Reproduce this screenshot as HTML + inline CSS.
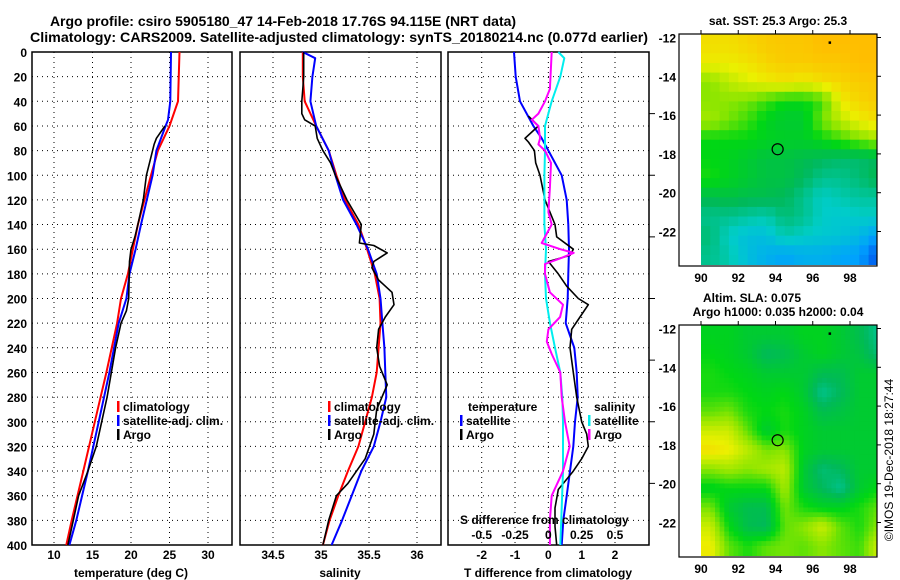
<!DOCTYPE html>
<html><head><meta charset="utf-8"><style>
body{margin:0;background:#fff}
svg{display:block;font-family:"Liberation Sans",sans-serif;font-weight:bold}
</style></head><body>
<svg id="c" width="900" height="580" viewBox="0 0 900 580" xmlns="http://www.w3.org/2000/svg">
<text x="283" y="26" font-size="14" text-anchor="middle">Argo profile: csiro 5905180_47 14-Feb-2018 17.76S 94.115E (NRT data)</text>
<text x="30" y="42" font-size="14" textLength="618" lengthAdjust="spacingAndGlyphs">Climatology: CARS2009. Satellite-adjusted climatology: synTS_20180214.nc (0.077d earlier)</text>
<text x="778" y="25" font-size="12" text-anchor="middle">sat. SST: 25.3 Argo: 25.3</text>
<text x="752" y="302" font-size="12" text-anchor="middle">Altim. SLA: 0.075</text>
<text x="778" y="316" font-size="12" text-anchor="middle">Argo h1000: 0.035 h2000: 0.04</text>
<text transform="translate(893,460) rotate(-90)" font-size="12" font-weight="normal" text-anchor="middle">©IMOS 19-Dec-2018 18:27:44</text>
<g id="g"></g>
</svg>
<script>
// ---- depth axis ----
const depthTicks=[0,20,40,60,80,100,120,140,160,180,200,220,240,260,280,300,320,340,360,380,400];
// ---- temperature panel ----
const tTicks=[10,15,20,25,30];
const tDepth=[0,40,60,80,100,140,180,200,220,260,300,340,380,400];
const tClim=[26.3,26.1,25.0,23.5,22.6,20.9,19.6,18.7,18.2,16.8,15.3,13.8,12.3,11.6];
const tSatDepth=[0,40,55,60,80,100,140,160,180,200,220,260,300,340,380,400];
const tSat=[25.2,25.1,24.8,24.5,23.3,22.8,21.3,20.6,19.8,19.4,18.4,17.2,15.8,14.4,12.9,12.0];
const tArgoDepth=[60,70,75,90,100,120,140,150,160,170,200,210,220,240,280,320,340,360,380,400];
const tArgo=[24.4,23.3,23.0,22.4,22.0,21.6,20.9,20.5,20.0,19.8,19.7,19.4,18.7,18.0,16.9,15.5,14.4,13.2,12.5,11.8];
// ---- salinity panel ----
const sTicks=[34.5,35,35.5,36];
const sClimDepth=[0,20,40,60,80,100,120,140,160,180,200,220,240,260,280,300,320,340,360,380,400];
const sClim=[34.81,34.81,34.83,34.95,35.08,35.16,35.25,35.39,35.48,35.56,35.61,35.62,35.60,35.58,35.53,35.46,35.39,35.28,35.18,35.09,35.02];
const sSatDepth=[0,5,20,40,60,80,100,120,140,160,180,200,220,240,260,280,300,320,340,360,380,400];
const sSat=[34.81,34.94,34.91,34.89,34.95,35.08,35.15,35.23,35.37,35.49,35.58,35.62,35.64,35.66,35.67,35.68,35.62,35.55,35.42,35.32,35.22,35.11];
const sArgoDepth=[0,20,30,40,50,55,60,70,75,80,90,100,120,140,155,157,163,170,175,185,195,205,215,225,240,255,270,290,310,330,340,350,360,380,400];
const sArgo=[34.82,34.82,34.81,34.80,34.80,34.83,34.94,34.96,34.99,35.02,35.10,35.15,35.27,35.42,35.40,35.55,35.69,35.55,35.53,35.60,35.74,35.76,35.67,35.60,35.58,35.61,35.69,35.58,35.55,35.46,35.37,35.28,35.16,35.08,35.02];
// ---- difference panel ----
const dTicks=[-2,-1,0,1,2];
const dsTicks=[-0.5,-0.25,0,0.25,0.5];
const dTSatDepth=[0,20,40,60,70,80,100,120,140,160,180,200,220,230,240,260,280,300,320,340,360,380,400];
const dTSat=[-1.03,-0.98,-0.85,-0.45,-0.2,0,0.4,0.55,0.6,0.62,0.6,0.58,0.52,0.65,0.78,0.85,0.88,0.8,0.75,0.65,0.55,0.45,0.4];
const dTArgoDepth=[52,60,65,70,73,80,90,100,120,140,150,160,165,170,180,190,200,205,215,225,240,260,280,300,310,320,330,340,355,370,385,400];
const dTArgo=[-0.6,-0.3,-0.5,-0.7,-0.6,-0.42,-0.38,-0.25,-0.1,0.2,0.25,0.75,0.65,0,0.3,0.55,0.9,1.2,0.95,0.7,0.65,0.75,0.85,1.0,1.15,1.2,1.0,0.75,0.3,0.2,0.2,0.25];
const dSSatDepth=[0,5,20,40,60,80,100,140,160,180,200,220,240,260,280,300,340,370,400];
const dSSat=[0.075,0.12,0.09,0.025,-0.025,-0.025,-0.03,-0.03,-0.018,-0.025,-0.018,0.0125,0.05,0.09,0.105,0.11,0.11,0.1,0.09];
const dSArgoDepth=[0,30,40,50,55,60,70,75,80,90,110,130,140,150,155,160,163,167,172,180,195,205,215,225,235,245,260,280,300,320,340,360,380,400];
const dSArgo=[0.025,0.012,-0.025,-0.075,-0.125,-0.075,-0.062,-0.075,-0.025,0.02,0.012,0,0.025,-0.025,-0.05,0.09,0.19,0.1,-0.025,-0.025,0.012,0.11,0.088,0,-0.012,0.025,0.09,0.1,0.125,0.16,0.11,0.025,0.012,0.012];
// ---- maps ----
const lonTicks=[90,92,94,96,98];
const latTicks=[-12,-14,-16,-18,-20,-22];
const sstGrid=[
[0.88,0.88,0.9,0.92,0.93,0.93,0.95,0.95,0.95,0.95],
[0.85,0.85,0.87,0.9,0.92,0.92,0.93,0.93,0.95,0.95],
[0.72,0.78,0.82,0.85,0.87,0.85,0.88,0.9,0.92,0.93],
[0.72,0.72,0.7,0.65,0.6,0.6,0.65,0.85,0.9,0.92],
[0.75,0.7,0.65,0.58,0.55,0.55,0.7,0.78,0.85,0.88],
[0.6,0.6,0.6,0.58,0.57,0.57,0.6,0.65,0.7,0.75],
[0.6,0.58,0.55,0.52,0.52,0.5,0.48,0.46,0.46,0.48],
[0.62,0.58,0.55,0.52,0.52,0.48,0.42,0.42,0.45,0.5],
[0.5,0.52,0.5,0.5,0.48,0.42,0.35,0.38,0.4,0.4],
[0.42,0.42,0.4,0.38,0.45,0.42,0.35,0.33,0.35,0.35],
[0.45,0.35,0.3,0.3,0.38,0.35,0.33,0.32,0.28,0.2],
[0.42,0.38,0.3,0.25,0.22,0.25,0.25,0.22,0.2,0.05]];
const slaGrid=[
[0.58,0.58,0.55,0.55,0.55,0.58,0.58,0.55,0.5,0.42],
[0.6,0.58,0.55,0.48,0.5,0.55,0.58,0.55,0.52,0.45],
[0.62,0.6,0.58,0.55,0.55,0.55,0.5,0.5,0.55,0.55],
[0.62,0.62,0.6,0.58,0.6,0.55,0.42,0.48,0.55,0.55],
[0.68,0.7,0.62,0.6,0.62,0.58,0.5,0.52,0.55,0.55],
[0.8,0.8,0.68,0.55,0.62,0.58,0.55,0.55,0.55,0.55],
[0.88,0.85,0.78,0.7,0.72,0.58,0.55,0.55,0.55,0.55],
[0.72,0.75,0.72,0.75,0.78,0.55,0.45,0.48,0.55,0.55],
[0.58,0.6,0.6,0.6,0.75,0.55,0.48,0.42,0.55,0.6],
[0.7,0.55,0.5,0.5,0.7,0.62,0.58,0.58,0.62,0.68],
[0.8,0.6,0.5,0.48,0.68,0.72,0.8,0.68,0.62,0.72],
[0.85,0.68,0.62,0.68,0.7,0.68,0.72,0.68,0.65,0.8]];
const floatLon=94.115, floatLat=-17.76;

const NS='http://www.w3.org/2000/svg';
const G=document.getElementById('g');
function mk(tag,at,parent){const e=document.createElementNS(NS,tag);for(const k in at)e.setAttribute(k,at[k]);(parent||G).appendChild(e);return e;}
const Y0=52,Y1=545;
const yD=d=>Y0+(d/400)*(Y1-Y0);
function lin(d0,d1,p0,p1){return v=>p0+(v-d0)/(d1-d0)*(p1-p0);}
const panels=[
 {x0:32,x1:232,sx:lin(10,30,54,208),ticks:tTicks,name:'temperature'},
 {x0:240,x1:441,sx:lin(34.5,36,273,417),ticks:sTicks,name:'salinity'},
 {x0:448,x1:649,sx:lin(-2,2,481.7,615),ticks:dTicks,name:'difference'}];
panels.forEach((p,i)=>{
  const b=mk('rect',{x:p.x0,y:Y0,width:p.x1-p.x0,height:Y1-Y0,fill:'none',stroke:'#000','stroke-width':1.5});
  
  
  depthTicks.forEach(d=>{
    if(d>0&&d<400){const l=mk('line',{x1:p.x0,x2:p.x1,y1:yD(d),y2:yD(d),stroke:'#000','stroke-dasharray':'1,4'});
    
    }
  });
  p.ticks.forEach(t=>{
    const x=p.sx(t);
    const l=mk('line',{x1:x,x2:x,y1:Y0,y2:Y1,stroke:'#000','stroke-dasharray':'1,4'});
    
    
    const tx=mk('text',{x:x,y:559,'font-size':12,'text-anchor':'middle'});tx.textContent=String(t);
    
    
  });
});
depthTicks.forEach(d=>{
  const t=mk('text',{x:27,y:yD(d)+5,'font-size':12,'text-anchor':'end'});t.textContent=String(d);
  
  
});
for(let d=50;d<400;d+=50){const l=mk('line',{x1:649,x2:655,y1:yD(d),y2:yD(d),stroke:'#000'});
  
  }
function line(p,depths,vals,color,w,name,sx){
  const f=sx||p.sx;
  const pts=depths.map((d,i)=>f(vals[i]).toFixed(1)+','+yD(d).toFixed(1)).join(' ');
  const e=mk('polyline',{points:pts,fill:'none',stroke:color,'stroke-width':w,'stroke-linejoin':'round'});
  
  
}
line(panels[0],tDepth,tClim,'#f00',2,'temperature-climatology-line');
line(panels[0],tSatDepth,tSat,'#00f',2,'temperature-satellite-line');
line(panels[0],tArgoDepth,tArgo,'#000',1.6,'temperature-argo-line');
line(panels[1],sClimDepth,sClim,'#f00',2,'salinity-climatology-line');
line(panels[1],sSatDepth,sSat,'#00f',2,'salinity-satellite-line');
line(panels[1],sArgoDepth,sArgo,'#000',1.6,'salinity-argo-line');
const sDiffX=lin(-0.5,0.5,481.7,615);
line(panels[2],dTSatDepth,dTSat,'#00f',2,'t-diff-satellite-line');
line(panels[2],dTArgoDepth,dTArgo,'#000',1.6,'t-diff-argo-line');
line(panels[2],dSSatDepth,dSSat,'#0ee',2,'s-diff-satellite-line',sDiffX);
line(panels[2],dSArgoDepth,dSArgo,'#f0f',2,'s-diff-argo-line',sDiffX);
function txt(x,y,s,name,size,anchor){const t=mk('text',{x:x,y:y,'font-size':size||12,'text-anchor':anchor||'start'});t.textContent=s;
  
  return t;}
function leg(x,y,color,label,name){
  const r=mk('rect',{x:x,y:y-10,width:2.5,height:11,fill:color});
  
  
  txt(x+6,y,label,name+'-label');
}
leg(117,411,'#f00','climatology','legend-temp-climatology');
leg(117,425,'#00f','satellite-adj. clim.','legend-temp-satellite');
leg(117,439,'#000','Argo','legend-temp-argo');
leg(328,411,'#f00','climatology','legend-sal-climatology');
leg(328,425,'#00f','satellite-adj. clim.','legend-sal-satellite');
leg(328,439,'#000','Argo','legend-sal-argo');
txt(468,411,'temperature','legend-temperature-heading');
leg(460,425,'#00f','satellite','legend-tdiff-satellite');
leg(460,439,'#000','Argo','legend-tdiff-argo');
txt(594,411,'salinity','legend-salinity-heading');
leg(588,425,'#0ee','satellite','legend-sdiff-satellite');
leg(588,439,'#f0f','Argo','legend-sdiff-argo');
txt(460,524,'S difference from climatology','s-diff-axis-title');
dsTicks.forEach(t=>txt(sDiffX(t),539,String(t),'s-diff-tick-label',12,'middle'));
txt(131,577,'temperature (deg C)','x-axis-title-temperature',12,'middle');
txt(340,577,'salinity','x-axis-title-salinity',12,'middle');
txt(548,577,'T difference from climatology','x-axis-title-tdiff',12,'middle');

// ---- maps ----
function cmap(v){
  const st=[[0,[0,60,230]],[0.2,[0,160,255]],[0.35,[0,205,200]],[0.48,[0,185,90]],[0.6,[0,215,20]],[0.72,[140,230,0]],[0.84,[235,240,0]],[0.95,[255,190,0]],[1,[255,170,0]]];
  for(let i=1;i<st.length;i++){if(v<=st[i][0]){const a=st[i-1],b=st[i],f=(v-a[0])/(b[0]-a[0]);
    return 'rgb('+a[1].map((c,k)=>Math.round(c+(b[1][k]-c)*f)).join(',')+')';}}
  return 'rgb(255,170,0)';
}
function sample(grid,fr,fc){
  const R=grid.length,C=grid[0].length;
  const r=Math.max(0,Math.min(R-1,fr-0.5)), c=Math.max(0,Math.min(C-1,fc-0.5));
  const r0=Math.floor(r),c0=Math.floor(c),r1=Math.min(R-1,r0+1),c1=Math.min(C-1,c0+1);
  const a=r-r0,b=c-c0;
  return grid[r0][c0]*(1-a)*(1-b)+grid[r0][c1]*(1-a)*b+grid[r1][c0]*a*(1-b)+grid[r1][c1]*a*b;
}
function drawMap(top,grid,name,sub){
  const bx0=679,bx1=877,by0=top,by1=top+232;
  const lx=lin(90,98,701,850), ly=lin(-12,-22,top+3.5,top+197.5);
  const latTop=-11.83,latBot=-23.7;
  const rows=grid.length,cols=grid[0].length;
  const nr=rows*sub,nc=cols*sub;
  for(let r=0;r<nr;r++)for(let c=0;c<nc;c++){
    const v=sub>1?sample(grid,(r+0.5)/sub,(c+0.5)/sub):grid[r][c];
    const la0=latTop+(latBot-latTop)*r/nr, la1=latTop+(latBot-latTop)*(r+1)/nr;
    const x0=lx(90+c/sub); if(x0>=bx1)continue;
    const x1=Math.min(lx(90+(c+1)/sub),bx1);
    const e=mk('rect',{x:x0.toFixed(1),y:ly(la0).toFixed(1),width:(x1-x0+0.5).toFixed(1),height:(ly(la1)-ly(la0)+0.5).toFixed(1),fill:cmap(v)});
    
    
  }
  const b=mk('rect',{x:bx0,y:by0,width:bx1-bx0,height:by1-by0,fill:'none',stroke:'#000','stroke-width':1.2});
  
  
  lonTicks.forEach(t=>{
    const x=lx(t);
    const l=mk('line',{x1:x,x2:x,y1:by0,y2:by0-4,stroke:'#000'});
    
    
    txt(x,by1+16,String(t),name+'-lon-label',12,'middle');
  });
  latTicks.forEach(t=>{
    const y=ly(t);
    const l=mk('line',{x1:bx1,x2:bx1+4,y1:y,y2:y,stroke:'#000'});
    
    
    txt(676,y+5,String(t),name+'-lat-label',12,'end');
  });
  const c=mk('circle',{cx:lx(floatLon),cy:ly(floatLat),r:5.5,fill:'none',stroke:'#000','stroke-width':1.2});
  
  
  const d=mk('rect',{x:lx(96.85),y:ly(-12.2),width:2.5,height:2.5,fill:'#000'});
  
  
}
drawMap(34,sstGrid,'sst-map',2);
drawMap(325,slaGrid,'sla-map',4);
</script>
</body></html>
